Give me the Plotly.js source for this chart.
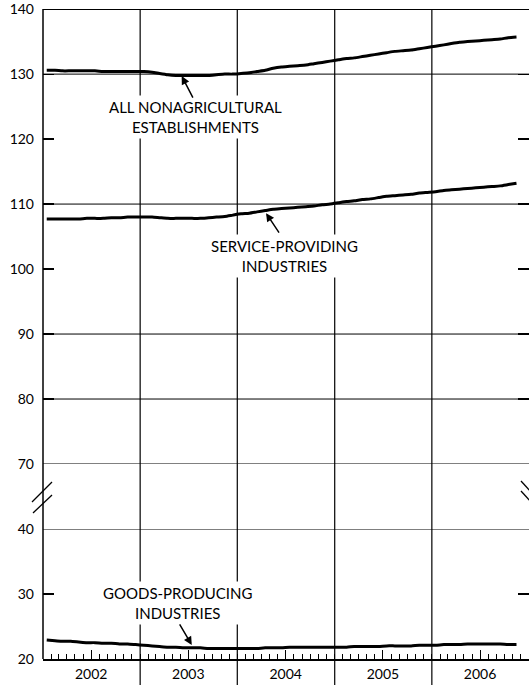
<!DOCTYPE html>
<html>
<head>
<meta charset="utf-8">
<script src="https://cdn.plot.ly/plotly-3.0.1.min.js"></script>
<style>
html,body{margin:0;padding:0;background:#fff;overflow:hidden;}
#chart{width:529px;height:685px;}
</style>
</head>
<body>
<div id="chart"></div>
<script>
// Monthly employment, millions, Jan 2002 - Nov 2006 (mid-month)
const months = [];
for (let y = 2002; y <= 2006; y++) {
  for (let m = 1; m <= 12; m++) {
    if (y === 2006 && m > 11) break;
    months.push(y + '-' + String(m).padStart(2, '0') + '-15');
  }
}
const allNonag = [
  130.6,130.6,130.5,130.5,130.5,130.5,130.5,130.4,130.4,130.4,130.4,130.4,
  130.4,130.3,130.1,129.9,129.8,129.8,129.8,129.8,129.8,129.9,130.0,130.0,
  130.1,130.2,130.4,130.6,130.9,131.1,131.2,131.3,131.4,131.6,131.8,132.0,
  132.2,132.4,132.5,132.7,132.9,133.1,133.3,133.5,133.6,133.7,133.9,134.1,
  134.3,134.5,134.7,134.9,135.0,135.1,135.2,135.3,135.4,135.6,135.7
];
const serviceProviding = [
  107.7,107.7,107.7,107.7,107.7,107.8,107.8,107.8,107.9,107.9,108.0,108.0,
  108.0,108.0,107.9,107.8,107.8,107.8,107.8,107.8,107.9,108.0,108.1,108.3,
  108.5,108.6,108.8,109.0,109.2,109.3,109.4,109.5,109.6,109.7,109.9,110.0,
  110.2,110.4,110.5,110.7,110.8,111.0,111.2,111.3,111.4,111.5,111.7,111.8,
  111.9,112.1,112.2,112.3,112.4,112.5,112.6,112.7,112.8,113.0,113.2
];
const goodsProducing = [
  22.9,22.8,22.7,22.7,22.6,22.5,22.5,22.4,22.4,22.3,22.3,22.2,
  22.1,22.0,21.9,21.8,21.8,21.7,21.7,21.7,21.6,21.6,21.6,21.6,
  21.6,21.6,21.6,21.7,21.7,21.7,21.8,21.8,21.8,21.8,21.8,21.8,
  21.8,21.8,21.9,21.9,21.9,21.9,22.0,22.0,22.0,22.0,22.1,22.1,
  22.1,22.2,22.2,22.2,22.3,22.3,22.3,22.3,22.3,22.2,22.2
];
const yearLabels = ['2002','2003','2004','2005','2006'];
const yearMids = ['2002-07-01','2003-07-01','2004-07-01','2005-07-01','2006-07-01'];
const yearBounds = ['2003-01-01','2004-01-01','2005-01-01','2006-01-01'];
const upperTicks = [70,80,90,100,110,120,130,140];
const upperGrid = [70,80,90,110,130];
const lowerTicks = [20,30,40];
const lowerGrid = [40];

const FONT = 'Lato, "Open Sans", sans-serif';
const lineStyle = {color:'#000', width:3, shape:'spline', smoothing:0.6};

const traces = [
  {x: months, y: allNonag, xaxis:'x', yaxis:'y2', mode:'lines', line:lineStyle, hoverinfo:'skip'},
  {x: months, y: serviceProviding, xaxis:'x', yaxis:'y2', mode:'lines', line:lineStyle, hoverinfo:'skip'},
  {x: months, y: goodsProducing, xaxis:'x', yaxis:'y', mode:'lines', line:lineStyle, hoverinfo:'skip'}
];

const shapes = [];
upperGrid.forEach(v => shapes.push({type:'line', xref:'paper', yref:'y2', x0:0, x1:1, y0:v, y1:v, line:{color:'#000', width:1}, layer:'below'}));
shapes.push({type:'line', xref:'paper', yref:'y2', x0:0, x1:1, y0:140, y1:140, line:{color:'#000', width:1.5}, layer:'below'});
lowerGrid.forEach(v => shapes.push({type:'line', xref:'paper', yref:'y', x0:0, x1:1, y0:v, y1:v, line:{color:'#000', width:1}, layer:'below'}));
yearBounds.forEach(d => shapes.push({type:'line', xref:'x', yref:'paper', x0:d, x1:d, y0:-0.06, y1:1, line:{color:'#000', width:1.2}, layer:'below'}));
// left axis line spanning the break
shapes.push({type:'line', xref:'paper', yref:'paper', x0:0, x1:0, y0:0, y1:1, line:{color:'#000', width:1.5}});
// break marks (pixel -> paper: x=(px-43)/486, y=(659-py)/650)
const px = p => (p - 43) / 486, py = p => (659 - p) / 650;
const breakMarks = [
  [[52,482],[32,502]], [[52,495],[33,513]],
  [[521,481],[532,493]], [[521,491],[532,503]]
];
breakMarks.forEach(b => shapes.push({type:'line', xref:'paper', yref:'paper',
  x0:px(b[0][0]), y0:py(b[0][1]), x1:px(b[1][0]), y1:py(b[1][1]), line:{color:'#000', width:1.3}}));

const labelFont = {family: FONT, size: 15, color:'#000'};
const annotations = [
  {xref:'x', yref:'y2', x:'2003-07-29', y:123.4, text:'ALL NONAGRICULTURAL<br>ESTABLISHMENTS', showarrow:false,
   font:labelFont, bgcolor:'#fff', borderpad:2, align:'center'},
  {xref:'x', yref:'y2', x:'2004-06-25', y:102.0, text:'SERVICE-PROVIDING<br>INDUSTRIES', showarrow:false,
   font:labelFont, bgcolor:'#fff', borderpad:2, align:'center'},
  {xref:'x', yref:'y', x:'2003-05-22', y:28.6, text:'GOODS-PRODUCING<br>INDUSTRIES', showarrow:false,
   font:labelFont, bgcolor:'#fff', borderpad:2, align:'center'},
  {xref:'x', yref:'y2', x:'2003-06-06', y:129.7, text:'', showarrow:true, ax:12, ay:23,
   arrowhead:2, arrowsize:1.1, arrowwidth:1.5, arrowcolor:'#000', standoff:0, startstandoff:0},
  {xref:'x', yref:'y2', x:'2004-04-18', y:108.6, text:'', showarrow:true, ax:14, ay:21,
   arrowhead:2, arrowsize:1.1, arrowwidth:1.5, arrowcolor:'#000', standoff:0, startstandoff:0},
  {xref:'x', yref:'y', x:'2003-07-14', y:22.15, text:'', showarrow:true, ax:-13, ay:-22,
   arrowhead:2, arrowsize:1.1, arrowwidth:1.5, arrowcolor:'#000', standoff:0, startstandoff:0}
];

const tickFont = {family: FONT, size: 14, color:'#000'};
const layout = {
  width: 529, height: 685,
  margin: {l:43, r:0, t:9, b:26},
  paper_bgcolor:'#fff', plot_bgcolor:'rgba(0,0,0,0)',
  showlegend:false,
  font: {family: FONT, color:'#000'},
  xaxis: {
    type:'date', range:['2002-01-01','2007-01-01'],
    tickmode:'array', tickvals: yearMids, ticktext: yearLabels,
    ticks:'inside', ticklen:9, tickwidth:1, tickcolor:'#000',
    minor:{ticks:'inside', ticklen:5, tickwidth:1, tickcolor:'#000', dtick:'M1', tick0:'2002-01-01', showgrid:false},
    showgrid:false, zeroline:false, showline:true, linecolor:'#000', linewidth:1.5,
    tickfont: tickFont, ticklabelstandoff: 2, anchor:'y'
  },
  yaxis: {
    domain:[0, 0.2], range:[19.98,40], tickmode:'array', tickvals: lowerTicks,
    ticks:'inside', ticklen:11, tickwidth:1.2, tickcolor:'#000', mirror:'ticks',
    showgrid:false, zeroline:false, showline:false, tickfont: tickFont, ticklabelstandoff: 8, anchor:'x'
  },
  yaxis2: {
    domain:[0.3, 1], range:[70,140.02], tickmode:'array', tickvals: upperTicks,
    ticks:'inside', ticklen:11, tickwidth:1.2, tickcolor:'#000', mirror:'ticks',
    showgrid:false, zeroline:false, showline:false, tickfont: tickFont, ticklabelstandoff: 8, anchor:'x'
  },
  shapes: shapes,
  annotations: annotations
};

Plotly.newPlot('chart', traces, layout, {displayModeBar:false, staticPlot:true});
</script>
</body>
</html>
